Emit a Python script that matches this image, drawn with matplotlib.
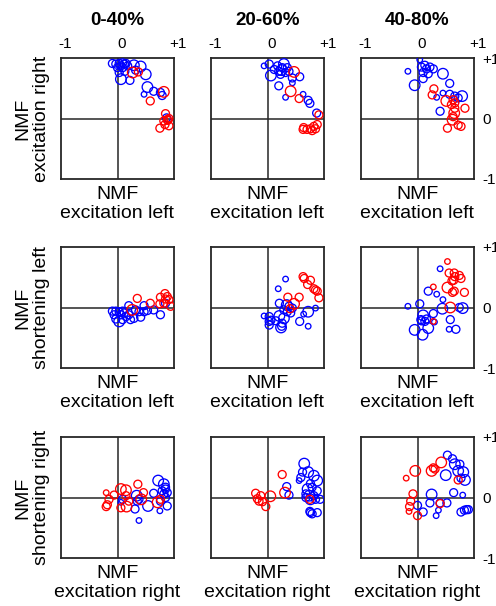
import matplotlib
matplotlib.use("Agg")
import matplotlib.pyplot as plt
import matplotlib.transforms as mtransforms

plt.rcParams['font.family'] = ['Liberation Sans', 'DejaVu Sans']

# ---- data: (x, y, size-code) per panel ----
col_titles = ["0-40%", "20-60%", "40-80%"]
row_ylabels = ["NMF\nexcitation right", "NMF\nshortening left", "NMF\nshortening right"]
row_xlabels = ["NMF\nexcitation left", "NMF\nexcitation left", "NMF\nexcitation right"]
tick_values = [-1, 0, 1]
tick_labels = ["-1", "0", "+1"]
size_map = {1: 16, 2: 33, 3: 58}

r1c1_blue = [(-0.09,0.91,2),(-0.03,0.90,2),(0.03,0.91,2),(0.09,0.92,2),(0.12,0.90,2),(0.15,0.91,2),
             (0.06,0.87,2),(0.00,0.84,2),(0.09,0.84,2),(0.18,0.87,2),(0.29,0.88,3),(0.41,0.86,3),
             (0.32,0.80,2),(0.50,0.73,3),(0.03,0.76,2),(0.06,0.65,3),(0.22,0.63,2),(0.13,0.78,2),
             (0.53,0.52,3),(0.64,0.45,2),(0.47,0.40,1),(0.76,0.43,2),(0.79,0.38,2),(0.87,0.01,2)]
r1c1_red = [(0.27,0.76,3),(0.37,0.77,2),(0.82,0.44,3),(0.58,0.29,2),(0.85,0.08,2),(0.88,-0.02,2),
            (0.91,0.00,2),(0.82,-0.04,2),(0.91,-0.12,2),(0.75,-0.16,2),(0.84,-0.10,2),(0.89,-0.03,2)]

r1c2_blue = [(-0.06,0.87,1),(0.03,0.90,2),(0.06,0.71,3),(0.12,0.81,2),(0.18,0.87,2),(0.20,0.78,2),
             (0.26,0.84,2),(0.29,0.90,3),(0.32,0.76,2),(0.35,0.84,2),(0.38,0.78,2),(0.23,0.73,2),
             (0.44,0.67,2),(0.44,0.59,1),(0.57,0.69,2),(0.20,0.54,2),(0.32,0.35,1),(0.63,0.40,1),
             (0.72,0.30,2),(0.75,0.25,2),(0.87,0.09,2),(0.25,0.80,3)]
r1c2_red = [(0.47,0.77,3),(0.41,0.45,3),(0.56,0.33,2),(0.91,0.06,2),(0.64,-0.15,2),(0.70,-0.18,2),
            (0.76,-0.17,2),(0.82,-0.13,2),(0.88,-0.10,2),(0.85,-0.17,2),(0.63,-0.18,2),(0.79,-0.20,2)]

r1c3_blue = [(0.04,0.97,1),(-0.17,0.78,1),(0.07,0.85,2),(0.13,0.88,2),(0.16,0.82,2),(0.22,0.85,2),
             (0.28,0.82,2),(0.10,0.76,2),(0.19,0.74,2),(0.10,0.66,2),(-0.05,0.55,3),(0.45,0.74,3),
             (0.57,0.58,2),(0.45,0.42,1),(0.34,0.35,1),(0.57,0.40,2),(0.66,0.37,2),(0.72,0.34,2),
             (0.79,0.37,3),(0.40,0.12,2)]
r1c3_red = [(0.29,0.49,2),(0.26,0.39,2),(0.51,0.29,3),(0.63,0.31,2),(0.60,0.23,2),(0.66,0.17,2),
            (0.84,0.17,2),(0.65,0.09,3),(0.63,0.03,2),(0.62,-0.02,3),(0.72,-0.11,2),(0.77,-0.13,2),
            (0.53,-0.16,2),(0.66,0.26,2)]

r2c1_blue = [(-0.09,-0.06,2),(-0.03,-0.06,2),(0.03,-0.07,2),(0.09,-0.06,2),(-0.03,-0.19,2),
             (0.03,-0.23,3),(0.09,-0.20,2),(0.15,-0.15,2),(0.20,-0.12,2),(0.23,-0.20,2),
             (0.29,-0.18,2),(0.41,-0.16,2),(0.38,-0.07,2),(0.47,-0.07,2),(0.53,-0.05,2),
             (0.64,-0.04,2),(0.47,0.03,2),(0.76,-0.12,2),(0.85,0.07,2),(0.06,-0.12,2),
             (-0.06,-0.12,2),(0.12,-0.09,2),(0.32,-0.04,2),(0.20,0.03,2)]
r2c1_red = [(0.35,0.15,2),(0.26,-0.04,3),(0.58,0.07,2),(0.75,0.06,2),(0.76,0.17,2),(0.84,0.23,2),
            (0.88,0.18,2),(0.91,0.13,2),(0.82,0.07,2),(0.94,0.02,2),(0.85,0.14,2)]

r2c2_blue = [(0.32,0.47,1),(0.19,0.31,1),(0.21,0.07,2),(0.34,0.04,3),(0.35,-0.07,2),(0.29,-0.04,2),
             (0.41,-0.09,2),(-0.06,-0.14,1),(0.03,-0.15,2),(0.03,-0.23,2),(0.06,-0.21,2),
             (0.15,-0.22,2),(0.21,-0.14,3),(0.29,-0.18,3),(0.26,-0.26,2),(0.24,-0.33,3),
             (0.25,-0.31,2),(0.03,-0.29,2),(0.57,-0.23,2),(0.72,-0.31,1),(0.64,-0.11,1),
             (0.72,-0.07,3),(0.85,-0.01,1),(0.44,-0.01,2),(0.38,0.02,2)]
r2c2_red = [(0.63,0.51,2),(0.65,0.48,2),(0.76,0.45,2),(0.71,0.38,2),(0.82,0.31,2),(0.88,0.27,2),
            (0.91,0.16,2),(0.85,0.29,2),(0.56,0.17,2),(0.36,0.17,2),(0.47,0.06,3),(0.40,-0.02,2)]

r2c3_blue = [(0.40,0.64,1),(0.19,0.27,2),(0.34,0.22,1),(0.45,0.13,1),(-0.17,0.02,1),(0.04,0.06,2),
             (0.44,-0.02,3),(0.28,-0.10,2),(0.10,-0.13,3),(0.16,-0.19,2),(0.07,-0.22,2),
             (0.13,-0.23,2),(0.30,-0.24,1),(0.19,-0.34,3),(-0.05,-0.37,3),(0.09,-0.45,3),
             (0.58,-0.20,2),(0.56,-0.36,1),(0.68,-0.36,2),(0.74,0.00,2),(0.80,-0.01,3),(0.06,-0.20,2)]
r2c3_red = [(0.53,0.76,1),(0.56,0.57,2),(0.65,0.57,2),(0.66,0.51,2),(0.74,0.53,2),(0.77,0.48,2),
            (0.64,0.45,2),(0.28,0.34,1),(0.53,0.33,3),(0.62,0.25,2),(0.65,0.27,2),(0.83,0.25,2),
            (0.58,0.00,3),(0.28,-0.23,1),(0.61,0.44,2)]

r3c1_blue = [(0.72,0.28,3),(0.82,0.22,3),(0.85,0.17,2),(0.79,0.11,2),(0.64,0.07,2),(0.82,0.06,2),
             (0.88,0.08,2),(0.85,0.00,2),(0.76,-0.06,2),(0.88,-0.14,2),(0.75,-0.22,1),
             (0.54,-0.14,3),(0.34,0.03,3),(0.38,-0.03,2),(0.31,-0.19,2),(0.38,-0.38,1),
             (0.09,-0.03,2),(0.06,-0.08,1),(0.35,-0.06,2),(0.85,0.14,2)]
r3c1_red = [(-0.20,0.08,1),(-0.06,0.04,2),(-0.15,-0.03,2),(-0.18,-0.12,2),(-0.20,-0.15,2),
            (0.06,0.14,3),(0.15,0.12,3),(0.15,0.03,2),(0.06,-0.17,2),(0.16,-0.15,3),(0.36,0.22,2),
            (0.46,0.08,2),(0.42,-0.03,3),(0.71,-0.08,3),(0.76,-0.03,2),(0.20,-0.06,2)]

r3c2_blue = [(0.65,0.56,3),(0.62,0.42,2),(0.59,0.33,2),(0.56,0.28,1),(0.72,0.42,3),(0.82,0.36,3),
             (0.88,0.28,3),(0.76,0.23,2),(0.79,0.17,2),(0.71,0.14,3),(0.88,0.11,2),(0.68,0.06,2),
             (0.74,0.03,3),(0.82,0.03,2),(0.85,-0.03,2),(0.93,-0.03,2),(0.76,-0.03,3),(0.68,0.00,2),
             (0.76,-0.25,2),(0.79,-0.27,2),(0.75,-0.23,2),(0.88,-0.25,2),(0.34,0.18,2),(0.38,0.04,2)]
r3c2_red = [(0.26,0.38,2),(0.31,0.08,3),(-0.21,0.07,2),(-0.18,-0.02,2),(-0.12,0.03,2),
            (-0.09,-0.07,2),(-0.03,-0.15,2),(0.05,0.02,3),(-0.15,-0.06,2),(0.75,-0.03,2)]

r3c3_blue = [(0.53,0.70,2),(0.62,0.64,2),(0.66,0.55,3),(0.75,0.55,2),(0.72,0.44,3),(0.81,0.42,3),
             (0.84,0.29,3),(0.77,0.32,2),(0.50,0.37,3),(0.25,0.05,3),(0.64,0.08,2),(0.80,0.04,1),
             (0.22,-0.09,2),(0.00,-0.13,2),(0.10,-0.24,2),(0.37,-0.21,1),(0.33,-0.30,1),
             (0.40,-0.09,2),(0.52,-0.09,2),(0.77,-0.24,2),(0.83,-0.21,2),(0.87,-0.20,2),(0.90,-0.20,2)]
r3c3_red = [(-0.20,0.32,1),(-0.04,0.44,3),(0.25,0.44,3),(0.31,0.47,2),(0.42,0.58,3),(0.72,0.29,2),
            (-0.08,0.06,2),(-0.12,-0.06,2),(-0.14,-0.15,2),(-0.15,-0.23,1),(0.00,-0.30,2),
            (0.40,-0.10,2),(0.28,0.49,2)]

panels = [[(r1c1_blue, r1c1_red), (r1c2_blue, r1c2_red), (r1c3_blue, r1c3_red)],
          [(r2c1_blue, r2c1_red), (r2c2_blue, r2c2_red), (r2c3_blue, r2c3_red)],
          [(r3c1_blue, r3c1_red), (r3c2_blue, r3c2_red), (r3c3_blue, r3c3_red)]]

# ---- layout (pixels) ----
W, H = 496, 606
col_left = [61, 211, 361]
row_top = [58, 247, 437]
aw, ah = 113, 121
frame = '#262626'

fig = plt.figure(figsize=(W / 100, H / 100), dpi=100)

for r in range(3):
    for c in range(3):
        ax = fig.add_axes([col_left[c] / W, 1 - (row_top[r] + ah) / H, aw / W, ah / H])
        ax.set_xlim(-1, 1)
        ax.set_ylim(-1, 1)
        for sp in ax.spines.values():
            sp.set_color(frame)
            sp.set_linewidth(1.3)
        ax.axhline(0, color=frame, lw=1.1, zorder=1)
        ax.axvline(0, color=frame, lw=1.1, zorder=1)
        blue, red = panels[r][c]
        for pts, col in ((blue, '#0000FF'), (red, '#FF0000')):
            ax.scatter([p[0] for p in pts], [p[1] for p in pts],
                       s=[size_map[p[2]] for p in pts], facecolors='none',
                       edgecolors=col, linewidths=0.95, zorder=3)
        if r == 0:
            ax.xaxis.tick_top()
            ax.set_xticks(tick_values)
            ax.set_xticklabels(tick_labels, fontsize=11)
            ax.tick_params(axis='x', length=0, pad=5)
            off = mtransforms.ScaledTranslation(4 / 100, 0, fig.dpi_scale_trans)
            for lab in ax.get_xticklabels():
                lab.set_transform(lab.get_transform() + off)
            ax.set_title(col_titles[c], fontsize=13.5, fontweight='bold', pad=24)
        else:
            ax.set_xticks([])
        if c == 2:
            ax.yaxis.tick_right()
            ax.set_yticks(tick_values)
            ax.set_yticklabels(tick_labels, fontsize=11)
            ax.tick_params(axis='y', length=0, pad=6)
        else:
            ax.set_yticks([])
        ax.set_xlabel(row_xlabels[r], fontsize=14, labelpad=5, linespacing=1.15)
        if c == 0:
            ax.set_ylabel(row_ylabels[r], fontsize=14, labelpad=8, linespacing=1.15)

fig.savefig('out.png', dpi=100)
